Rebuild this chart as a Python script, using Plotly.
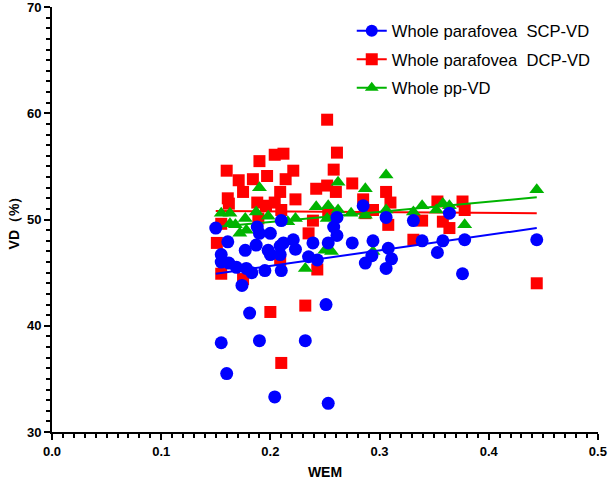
import plotly.graph_objects as go

# ---- data ----
scp_x = [0.150, 0.155, 0.155, 0.161, 0.162, 0.169, 0.174, 0.177, 0.178, 0.183,
         0.187, 0.188, 0.190, 0.195, 0.198, 0.200, 0.200, 0.209, 0.209, 0.210,
         0.210, 0.212, 0.221, 0.223, 0.235, 0.239, 0.243, 0.253, 0.258, 0.261,
         0.261, 0.275, 0.285, 0.287, 0.293, 0.294, 0.306, 0.306, 0.308, 0.311,
         0.331, 0.339, 0.353, 0.358, 0.364, 0.376, 0.378, 0.444,
         0.155, 0.160, 0.181, 0.190, 0.204, 0.232, 0.251, 0.253]
scp_y = [49.2, 46.7, 46.0, 47.9, 45.9, 45.5, 43.8, 47.1, 45.4, 45.0,
         47.6, 49.3, 48.7, 45.2, 47.1, 48.7, 46.7, 46.7, 47.5, 49.9,
         45.2, 47.8, 48.1, 47.2, 46.5, 47.8, 46.2, 47.8, 49.3, 48.5,
         50.2, 47.8, 51.3, 45.9, 46.6, 48.0, 50.2, 45.4, 47.3, 46.3,
         49.9, 48.0, 46.9, 48.0, 50.6, 44.9, 48.1, 48.1,
         38.4, 35.5, 41.2, 38.6, 33.3, 38.6, 42.0, 32.7]

dcp_x = [0.151, 0.155, 0.155, 0.162, 0.160, 0.161, 0.171, 0.175, 0.175, 0.184,
         0.188, 0.189, 0.190, 0.197, 0.196, 0.204, 0.200, 0.204, 0.209, 0.209,
         0.210, 0.210, 0.212, 0.214, 0.221, 0.223, 0.232, 0.235, 0.239, 0.242,
         0.243, 0.252, 0.252, 0.253, 0.258, 0.260, 0.261, 0.275, 0.285, 0.287,
         0.294, 0.306, 0.308, 0.310, 0.331, 0.339, 0.353, 0.358, 0.364, 0.376,
         0.378, 0.444]
dcp_y = [47.8, 49.6, 44.9, 51.5, 54.6, 52.0, 53.7, 52.6, 44.4, 53.8,
         51.6, 50.1, 55.5, 54.1, 51.3, 51.6, 41.3, 56.1, 52.6, 46.2,
         50.9, 36.5, 56.2, 53.8, 54.6, 51.9, 41.9, 48.7, 49.9, 52.9,
         45.3, 53.2, 59.4, 50.6, 54.7, 52.6, 56.3, 53.4, 51.9, 50.6,
         50.9, 52.6, 49.5, 51.6, 48.1, 49.9, 51.7, 49.8, 49.2, 51.7,
         50.9, 44.0]

pp_x = [0.155, 0.163, 0.163, 0.168, 0.172, 0.177, 0.178, 0.187, 0.190, 0.198,
        0.216, 0.223, 0.232, 0.242, 0.250, 0.252, 0.253, 0.256, 0.262, 0.262,
        0.274, 0.287, 0.287, 0.294, 0.306, 0.306, 0.331, 0.339, 0.352, 0.358,
        0.364, 0.378, 0.444]
pp_y = [50.6, 50.6, 49.6, 49.5, 48.7, 50.1, 49.0, 50.7, 53.0, 50.3,
        49.8, 50.1, 45.4, 51.2, 47.1, 50.1, 51.3, 47.0, 53.5, 50.9,
        50.6, 52.9, 50.4, 47.0, 54.2, 50.9, 50.7, 51.3, 50.9, 51.5,
        51.3, 49.5, 52.8]

# fitted regression lines (end points)
fit_x = [0.150, 0.444]
fit_scp = [44.9, 49.2]
fit_dcp = [50.8, 50.6]
fit_pp = [49.3, 52.1]

x_ticks = [0.0, 0.1, 0.2, 0.3, 0.4, 0.5]
y_ticks = [30, 40, 50, 60, 70]

names = ["Whole parafovea\u00a0\u00a0SCP-VD", "Whole parafovea\u00a0\u00a0DCP-VD", "Whole pp-VD"]
BLUE, RED, GREEN = "#0000FF", "#FF0000", "#00B400"
FONT = "Liberation Sans, Arial, sans-serif"

fig = go.Figure()

# draw order: red, green, blue (blue on top)
fig.add_trace(go.Scatter(x=dcp_x, y=dcp_y, mode="markers", showlegend=False,
                         marker=dict(symbol="square", size=12, color=RED)))
fig.add_trace(go.Scatter(x=fit_x, y=fit_dcp, mode="lines", showlegend=False,
                         line=dict(color=RED, width=2)))
fig.add_trace(go.Scatter(x=pp_x, y=pp_y, mode="markers", showlegend=False,
                         marker=dict(symbol="triangle-up", size=13, color=GREEN)))
fig.add_trace(go.Scatter(x=fit_x, y=fit_pp, mode="lines", showlegend=False,
                         line=dict(color=GREEN, width=2)))
fig.add_trace(go.Scatter(x=scp_x, y=scp_y, mode="markers", showlegend=False,
                         marker=dict(symbol="circle", size=13, color=BLUE)))
fig.add_trace(go.Scatter(x=fit_x, y=fit_scp, mode="lines", showlegend=False,
                         line=dict(color=BLUE, width=2)))

# legend entries (line + marker)
for i, (nm, col, sym) in enumerate([(names[0], BLUE, "circle"), (names[1], RED, "square"),
                                     (names[2], GREEN, "triangle-up")]):
    fig.add_trace(go.Scatter(x=[None], y=[None], mode="lines+markers", name=nm,
                             legendgroup="g%d" % i,
                             marker=dict(symbol=sym, size=12, color=col),
                             line=dict(color=col, width=2)))

axis_common = dict(
    showline=True, linewidth=2, linecolor="black", mirror=False,
    ticks="outside", ticklen=6, tickwidth=2, tickcolor="black",
    showgrid=False, zeroline=False, automargin=False,
    ticklabeloverflow="allow",
    tickfont=dict(family=FONT, size=13, color="black", weight="bold"),
)

fig.update_layout(
    width=613, height=486,
    margin=dict(l=52, r=15, t=7, b=54),
    paper_bgcolor="white", plot_bgcolor="white",
    font=dict(family=FONT, color="black"),
    xaxis=dict(range=[0, 0.5001], tickvals=x_ticks, tickformat=".1f",
               minor=dict(ticks="outside", ticklen=4, tickwidth=2, dtick=0.01, tick0=0,
                          tickcolor="black"),
               title=dict(text="<b>WEM</b>", font=dict(size=14), standoff=10),
               **axis_common),
    yaxis=dict(range=[30, 70.01], tickvals=y_ticks,
               minor=dict(ticks="outside", ticklen=4, tickwidth=2, dtick=1, tick0=30,
                          tickcolor="black"),
               title=dict(text="<b>VD（%）</b>", font=dict(size=14), standoff=4),
               **axis_common),
    legend=dict(x=0.549, y=0.985, xanchor="left", yanchor="top",
                font=dict(size=16.6, color="black"), bgcolor="rgba(0,0,0,0)",
                itemwidth=30, tracegroupgap=4),
)

fig.write_html("out.html", config={"displayModeBar": False},
               post_script="document.body.style.margin='0';document.body.style.overflow='hidden';")
